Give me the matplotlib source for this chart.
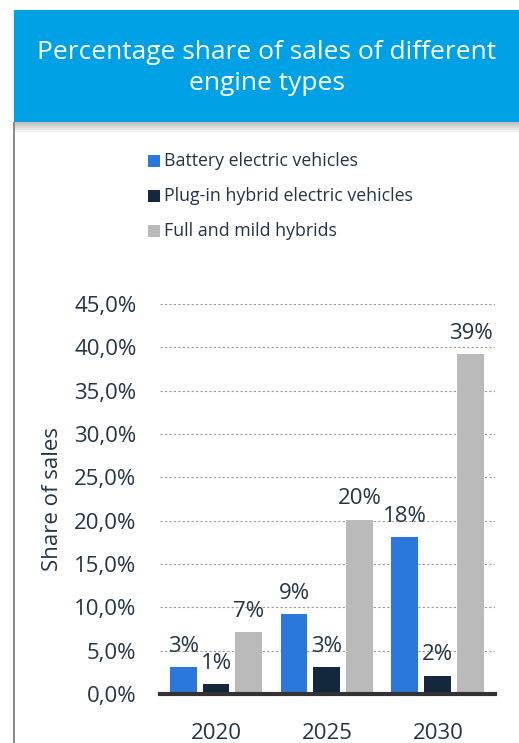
import numpy as np
import matplotlib.pyplot as plt
from matplotlib.patches import Rectangle

plt.rcParams['font.family'] = ['Open Sans', 'DejaVu Sans']

years = ['2020', '2025', '2030']
series = ['Battery electric vehicles', 'Plug-in hybrid electric vehicles', 'Full and mild hybrids']
bev = [3.1, 9.2, 18.1]
phev = [1.1, 3.1, 2.1]
hybrid = [7.1, 20.1, 39.2]
colors = ['#2a78dc', '#13273d', '#bababa']
text_col = '#243447'

W, H = 519, 743
fig = plt.figure(figsize=(W / 100, H / 100), dpi=100)

# title banner with soft shadow
for i in range(5):
    fig.patches.append(Rectangle((14 / W, (H - 122 - 2 * (i + 1)) / H), (W - 14) / W, 2 * (i + 1) / H,
                                 transform=fig.transFigure, color='black', alpha=0.05, lw=0))
fig.patches.append(Rectangle((14 / W, (H - 122) / H), (W - 14) / W, 112 / H,
                             transform=fig.transFigure, color='#00a1e4', lw=0))
fig.text((14 + W) / 2 / W, (H - 68) / H, 'Percentage share of sales of different\nengine types',
         color='white', fontsize=19, ha='center', va='center', linespacing=1.32)
# left grey border
fig.patches.append(Rectangle((13 / W, 0), 2 / W, (H - 122) / H,
                             transform=fig.transFigure, color='#8c8c8c', lw=0))

# legend
for i, (name, c) in enumerate(zip(series, colors)):
    yc = 161 + 35 * i
    fig.patches.append(Rectangle((148 / W, (H - yc - 6) / H), 12 / W, 12 / H,
                                 transform=fig.transFigure, color=c, lw=0))
    fig.text(164 / W, (H - yc) / H, name, color=text_col, fontsize=12.8, va='center', ha='left')

ax = fig.add_axes([160 / W, 49 / H, 335 / W, 390 / H])
x = np.arange(len(years))
step = 0.297
width = 0.243
for k, (vals, c) in enumerate(zip([bev, phev, hybrid], colors)):
    pos = x + (k - 1) * step
    ax.bar(pos, vals, width=width, color=c, zorder=3)
    for p, v in zip(pos, vals):
        ax.text(p, v + 1.2, '%d%%' % round(v), ha='center', va='bottom', fontsize=16,
                color=text_col, zorder=4)

ax.set_xlim(-0.505, 2.515)
ax.set_ylim(0, 45)
ax.set_yticks(np.arange(0, 46, 5))
ax.yaxis.set_major_formatter(plt.FuncFormatter(lambda v, p: ('%.1f%%' % v).replace('.', ',')))
ax.set_xticks(x)
ax.set_xticklabels(years)
ax.tick_params(axis='both', length=0, labelsize=16, colors=text_col)
ax.tick_params(axis='y', pad=17)
ax.tick_params(axis='x', pad=21)
ax.grid(axis='y', linestyle=(0, (2, 2)), color='#999999', linewidth=0.8, zorder=0)
for s in ['top', 'right', 'left']:
    ax.spines[s].set_visible(False)
ax.spines['bottom'].set_color('#333333')
ax.spines['bottom'].set_linewidth(3)
ax.spines['bottom'].set_zorder(5)
ax.set_ylabel('Share of sales', fontsize=16, color=text_col)
ax.yaxis.set_label_coords(-0.29, 0.5)

fig.savefig('out.png', dpi=100)
